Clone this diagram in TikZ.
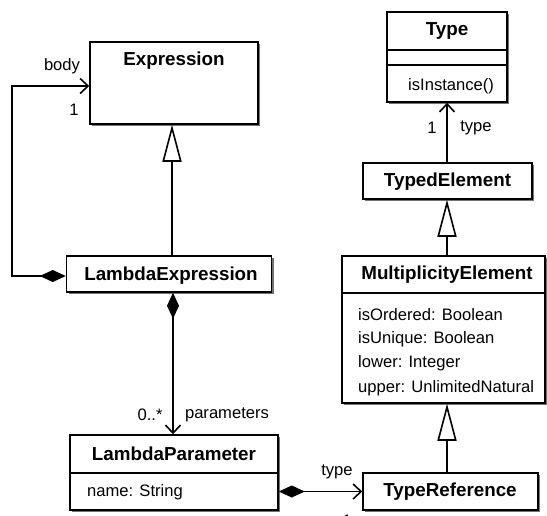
\documentclass[tikz,border=0pt]{standalone}
\usepackage{fontspec}
\setmainfont{Liberation Sans}
\usetikzlibrary{arrows.meta,shadows}
\begin{document}
\begin{tikzpicture}[x=1pt,y=-1pt,
  box/.style={draw, line width=1.5pt, fill=white, inner sep=0pt,
    drop shadow={shadow xshift=2pt,shadow yshift=-2pt,fill=black!55,opacity=1}},
  ctitle/.style={inner sep=0pt, font=\fontsize{18.8}{22}\selectfont\bfseries},
  attr/.style={inner sep=0pt, anchor=west, font=\fontsize{16.6}{20}\selectfont},
  lbl/.style={inner sep=0pt, font=\fontsize{16.6}{20}\selectfont},
  conn/.style={line width=1.6pt},
  gen/.style={conn, -{Triangle[length=37pt,width=19pt,fill=white]}},
  assoc/.style={conn, -{Straight Barb[length=8pt,width=15pt]}},
  compo/.style={conn, {Diamond[length=26pt,width=12pt]}-{Straight Barb[length=8pt,width=15pt]}},
  sep/.style={line width=1.5pt}
]
\useasboundingbox (0,0) rectangle (547,515);
\clip (0,0) rectangle (547,515);

% boxes
\node[box, minimum width=168pt, minimum height=82pt] (expr) at (174,83) {};
\node[ctitle] (exprt) at (174,61) {Expression};

\node[box, minimum width=205pt, minimum height=36pt] (lexpr) at (169,274) {};
\node[ctitle] (lexprt) at (171,276) {LambdaExpression};

\node[box, minimum width=208pt, minimum height=75pt] (lpar) at (174,472.5) {};
\node[ctitle] (lpart) at (174,454) {LambdaParameter};
\draw[sep] (lpar.west |- 0,473) -- (lpar.east |- 0,473);
\node[attr] (lparname) at (87,492) {name: String};

\node[box, minimum width=120pt, minimum height=90pt] (type) at (447,57) {};
\node[ctitle] (typet) at (447,31) {Type};
\draw[sep] (type.west |- 0,50) -- (type.east |- 0,50);
\draw[sep] (type.west |- 0,65) -- (type.east |- 0,65);
\node[attr] (typeop) at (408,86) {isInstance()};

\node[box, minimum width=169pt, minimum height=36pt] (typed) at (447.5,181) {};
\node[ctitle] (typedt) at (447.5,182) {TypedElement};

\node[box, minimum width=203pt, minimum height=147pt] (mult) at (443.5,329.5) {};
\node[ctitle] (multt) at (447,275) {MultiplicityElement};
\draw[sep] (mult.west |- 0,293) -- (mult.east |- 0,293);
\node[attr] (ma1) at (358,315) {isOrdered: Boolean};
\node[attr] (ma2) at (358,339) {isUnique: Boolean};
\node[attr] (ma3) at (358,363) {lower: Integer};
\node[attr] (ma4) at (358,388) {upper: UnlimitedNatural};

\node[box, minimum width=175pt, minimum height=37pt] (tref) at (450.5,491.5) {};
\node[ctitle] (treft) at (450,492) {TypeReference};

% helper coordinates
\coordinate (gx) at (172,0);
\coordinate (cx) at (173,0);
\coordinate (rx) at (447,0);
\coordinate (bl) at (12,276);
\coordinate (tl) at (12,86);

% connectors
\draw[compo] (lexpr.west |- bl) -- (bl) -- (tl) -- (tl -| expr.west);
\draw[gen] (gx |- lexpr.north) -- (gx |- expr.south);
\draw[compo] (cx |- lexpr.south) -- (cx |- lpar.north);
\draw[compo] (lpar.east |- tref.west) -- (tref.west);
\draw[gen] (rx |- tref.north) -- (rx |- mult.south);
\draw[gen] (rx |- mult.north) -- (rx |- typed.south);
\draw[assoc] (rx |- typed.north) -- (rx |- type.south);

% labels
\node[lbl] (lbody) at (62,66) {body};
\node[lbl] (lbody1) at (74,110) {1};
\node[lbl] (lpm) at (150,415) {0..*};
\node[lbl] (lpn) at (227,415) {parameters};
\node[lbl] (ltype) at (337,472) {type};
\node[lbl] (ltype1) at (347,521) {1};
\node[lbl] (lt1) at (432,128) {1};
\node[lbl] (lt2) at (476,128) {type};
\end{tikzpicture}
\end{document}
